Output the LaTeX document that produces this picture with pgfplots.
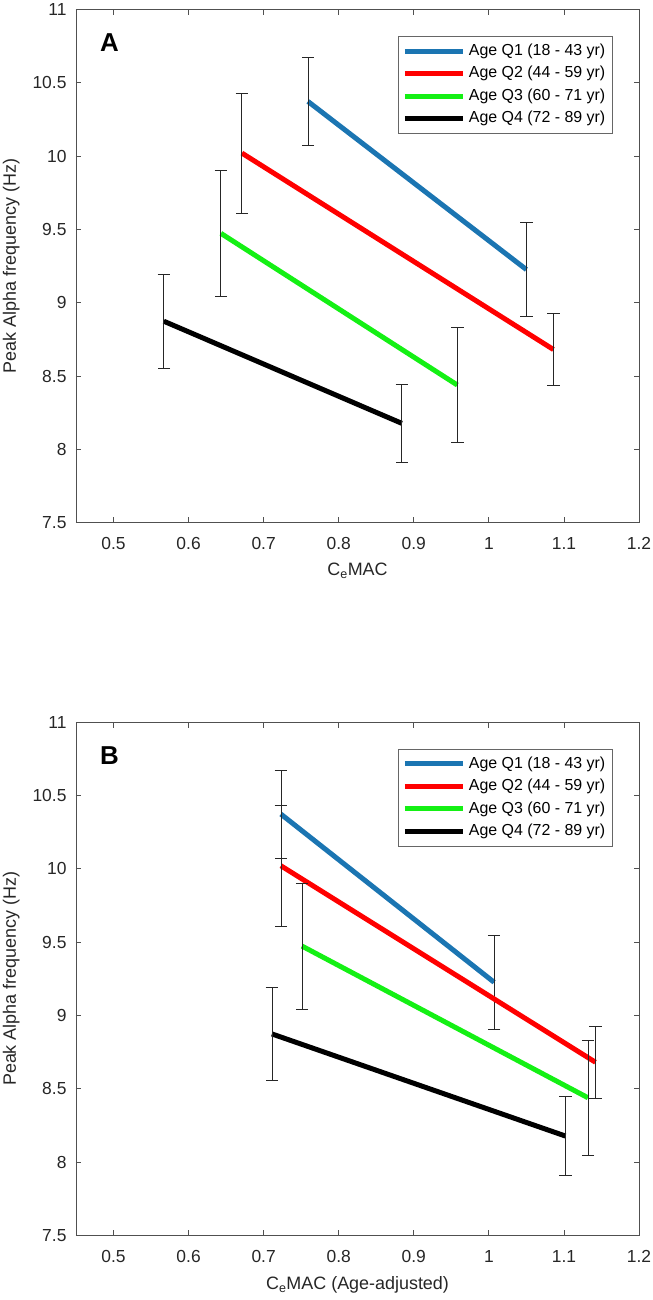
\documentclass[border=0pt]{standalone}
\usepackage{pgfplots}
\usepackage{pgfplotstable}
\pgfplotsset{compat=1.18}
\usepackage{fontspec}
\setmainfont{Liberation Sans}
\definecolor{cQ1}{RGB}{27,117,178}
\definecolor{cQ2}{RGB}{255,0,0}
\definecolor{cQ3}{RGB}{20,240,20}
\definecolor{cQ4}{RGB}{0,0,0}
\definecolor{axgray}{RGB}{80,80,80}

% Panel A
\pgfplotstableread{
x y e
0.759 10.372 0.30
1.050 9.226 0.32
}\AQone
\pgfplotstableread{
x y e
0.671 10.020 0.41
1.086 8.681 0.245
}\AQtwo
\pgfplotstableread{
x y e
0.643 9.473 0.43
0.958 8.439 0.39
}\AQthree
\pgfplotstableread{
x y e
0.567 8.874 0.32
0.884 8.178 0.267
}\AQfour
% Panel B
\pgfplotstableread{
x y e
0.723 10.372 0.30
1.007 9.226 0.32
}\BQone
\pgfplotstableread{
x y e
0.723 10.020 0.41
1.142 8.681 0.245
}\BQtwo
\pgfplotstableread{
x y e
0.751 9.473 0.43
1.132 8.439 0.39
}\BQthree
\pgfplotstableread{
x y e
0.711 8.874 0.32
1.102 8.178 0.267
}\BQfour

\pgfplotsset{
  mystyle/.style={
    width=563bp, height=513.5bp, scale only axis,
    xmin=0.45, xmax=1.2, ymin=7.5, ymax=11,
    xtick={0.5,0.6,0.7,0.8,0.9,1,1.1,1.2},
    xticklabels={0.5,0.6,0.7,0.8,0.9,1,1.1,1.2},
    ytick={7.5,8,8.5,9,9.5,10,10.5,11},
    yticklabels={7.5,8,8.5,9,9.5,10,10.5,11},
    tick align=inside, major tick length=5.5bp,
    axis line style={axgray, line width=0.8bp},
    every tick/.style={axgray, line width=0.8bp},
    tick label style={font=\fontsize{17.5}{20}\selectfont, text=black!85},
    xticklabel style={anchor=base, yshift=-27bp},
    yticklabel style={anchor=east, xshift=-6bp},
    label style={font=\fontsize{18}{21}\selectfont, text=black!85},
    ylabel={Peak Alpha frequency (Hz)},
    ylabel style={at={(axis description cs:-0.1066,0.5)}, anchor=base},
    legend style={at={(rel axis cs:0.9533,0.948)}, anchor=north east,
      draw=black!60, line width=0.8bp, font=\fontsize{16}{19}\selectfont,
      inner sep=3.5bp, row sep=0bp,
      nodes={inner sep=3.5bp, text height=12bp, text depth=3.5bp}},
    legend cell align=left,
    legend image code/.code={\draw[##1] (0bp,0bp) -- (58bp,0bp);},
  },
  errstyle/.style={
    error bars/y dir=both, error bars/y explicit,
    error bars/error bar style={black!85, line width=0.8bp},
    error bars/error mark options={rotate=90, black!85, line width=0.8bp, mark size=6.2bp},
  },
}

\begin{document}
\begin{tikzpicture}
\useasboundingbox (-76bp,9.3bp) rectangle (577bp,-1290.7bp);
\begin{axis}[mystyle, at={(0bp,0bp)}, anchor=north west,
  xlabel={C\textsubscript{e}MAC},
  xlabel style={at={(axis description cs:0.5,-0.1032)}, anchor=base}]
\addplot[cQ1, line width=5bp, errstyle] table[x=x, y=y, y error=e] {\AQone};
\addlegendentry{Age Q1 (18 - 43 yr)}
\addplot[cQ2, line width=5bp, errstyle] table[x=x, y=y, y error=e] {\AQtwo};
\addlegendentry{Age Q2 (44 - 59 yr)}
\addplot[cQ3, line width=5bp, errstyle] table[x=x, y=y, y error=e] {\AQthree};
\addlegendentry{Age Q3 (60 - 71 yr)}
\addplot[cQ4, line width=5bp, errstyle] table[x=x, y=y, y error=e] {\AQfour};
\addlegendentry{Age Q4 (72 - 89 yr)}
\node[anchor=north west, inner sep=0pt, font=\bfseries\fontsize{26}{26}\selectfont] at (rel axis cs:0.0426,0.953) {A};
\end{axis}
\begin{axis}[mystyle, at={(0bp,-712.7bp)}, anchor=north west,
  xlabel={C\textsubscript{e}MAC (Age-adjusted)},
  xlabel style={at={(axis description cs:0.5,-0.1051)}, anchor=base}]
\addplot[cQ1, line width=5bp, errstyle] table[x=x, y=y, y error=e] {\BQone};
\addlegendentry{Age Q1 (18 - 43 yr)}
\addplot[cQ2, line width=5bp, errstyle] table[x=x, y=y, y error=e] {\BQtwo};
\addlegendentry{Age Q2 (44 - 59 yr)}
\addplot[cQ3, line width=5bp, errstyle] table[x=x, y=y, y error=e] {\BQthree};
\addlegendentry{Age Q3 (60 - 71 yr)}
\addplot[cQ4, line width=5bp, errstyle] table[x=x, y=y, y error=e] {\BQfour};
\addlegendentry{Age Q4 (72 - 89 yr)}
\node[anchor=north west, inner sep=0pt, font=\bfseries\fontsize{26}{26}\selectfont] at (rel axis cs:0.0426,0.953) {B};
\end{axis}
\end{tikzpicture}
\end{document}
